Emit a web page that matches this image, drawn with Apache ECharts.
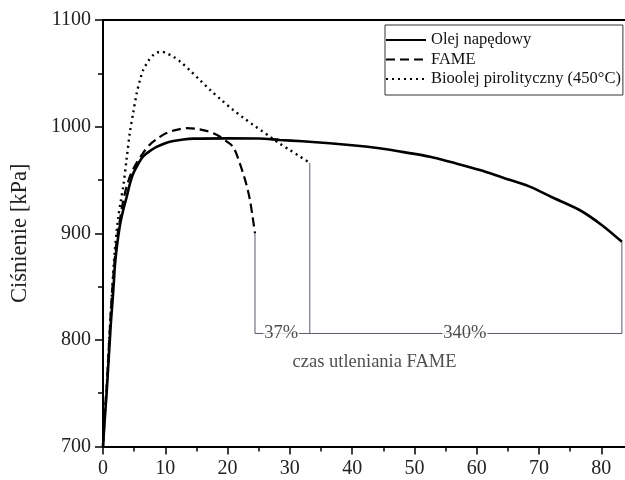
<!DOCTYPE html>
<html>
<head>
<meta charset="utf-8">
<script src="https://cdn.jsdelivr.net/npm/echarts@6/dist/echarts.min.js"></script>
<style>
  html, body { margin: 0; padding: 0; background: #fff; }
  #main { width: 625px; height: 480px; }
</style>
</head>
<body>
<div id="main"></div>
<script>
// czas [min] / ciśnienie [kPa]
var dieselX = [0, 0.3, 0.6, 0.85, 1.1, 1.3, 1.54, 1.75, 1.9, 2.1, 2.4, 2.8, 3.3, 3.8, 4.3, 4.85, 5.6, 6.45, 7.5, 8.6, 10, 11.3, 12.9, 14.5, 20, 25, 28.4, 32, 36.4, 40, 44.4, 48, 52.5, 56, 60.5, 64, 68.5, 72, 76.5, 80, 83.3];
var dieselY = [700, 727, 752, 776, 800, 819, 837, 855, 869, 881, 895, 910, 923, 934, 946, 956, 964.5, 972, 977, 981, 984.5, 986.5, 988, 988.7, 989, 988.8, 987.5, 986.3, 984.4, 982.5, 979.7, 976.3, 971.8, 966.5, 959.3, 952.5, 943.7, 934, 921.8, 908, 892];

var fameX = [0, 0.3, 0.6, 1.0, 1.4, 1.8, 2.2, 2.7, 3.2, 3.8, 4.5, 5.4, 6.4, 7.5, 8.8, 10.2, 11.8, 13.4, 15, 16.6, 17.8, 18.8, 19.9, 20.9, 21.7, 22.5, 23.1, 23.6, 24.0, 24.4];
var fameY = [700, 732, 756, 800, 840, 870, 893, 912, 929, 944, 956, 966, 975, 983, 989, 994, 997, 998.5, 998, 996, 993.5, 990.5, 986, 981, 970, 956, 944, 931, 916, 900];

var bioX = [0, 0.3, 0.6, 1.0, 1.5, 1.9, 2.45, 2.85, 3.25, 3.8, 4.3, 4.85, 5.4, 5.9, 6.45, 7.2, 8.05, 8.7, 9.4, 10.3, 11.3, 12.6, 13.9, 15.5, 17.2, 19, 20.9, 22.5, 24.1, 25.5, 26.8, 28.4, 30, 31.6, 33.2];
var bioY = [700, 732, 756, 800, 850, 884, 915, 930, 944, 970, 994, 1013, 1031, 1043, 1053, 1061, 1067, 1069.5, 1070.3, 1068.5, 1065.6, 1060, 1053, 1044, 1034.4, 1025, 1015.6, 1008.5, 1001.6, 996, 990.6, 984, 978, 972, 966];

var seriesNames = ['Olej napędowy', 'FAME', 'Bioolej pirolityczny (450°C)'];

var xMajorTicks = [0, 10, 20, 30, 40, 50, 60, 70, 80];
var xMinorTicks = [5, 15, 25, 35, 45, 55, 65, 75];

// bracket under the curve ends and its notes
var bracketLevel = 806;
var noteText = ['37%', '340%', 'czas utleniania FAME'];
var noteX = [28.6, 58.1, 43.6];
var noteY = [806, 806, 778.7];

function zip(xs, ys) {
  return xs.map(function (x, i) { return [x, ys[i]]; });
}

var fameEnd = [fameX[fameX.length - 1], fameY[fameY.length - 1]];
var bioEnd = [bioX[bioX.length - 1], bioY[bioY.length - 1]];
var dieselEnd = [dieselX[dieselX.length - 1], dieselY[dieselY.length - 1]];

var font = 'Liberation Serif';
var chart = echarts.init(document.getElementById('main'), null, { renderer: 'canvas' });

var bracketStyle = { color: '#5b5b6b', width: 1 };
var tickStyle = { color: '#000', width: 1.5 };
var plain = function (v) { return String(v); };

var option = {
  animation: false,
  textStyle: { fontFamily: font },
  grid: { left: 103, top: 20, right: 0, bottom: 33.5 },
  legend: {
    data: seriesNames,
    orient: 'vertical',
    left: 385,
    top: 25,
    padding: [6, 2, 7, 0],
    itemWidth: 40,
    itemHeight: 14,
    itemGap: 1.5,
    borderColor: '#333',
    borderWidth: 1,
    itemStyle: { color: 'rgba(0,0,0,0)', borderWidth: 0, opacity: 0 },
    textStyle: { fontFamily: font, fontSize: 16.5, color: '#111', lineHeight: 18 }
  },
  xAxis: [{
    type: 'value',
    min: 0,
    max: 83.8,
    splitLine: { show: false },
    axisLine: { lineStyle: { color: '#000', width: 2 } },
    axisTick: { inside: false, length: 8, lineStyle: tickStyle, customValues: xMajorTicks },
    axisLabel: { fontFamily: font, fontSize: 20, color: '#222', margin: 12, formatter: plain, customValues: xMajorTicks }
  }, {
    type: 'value',
    position: 'bottom',
    min: 0,
    max: 83.8,
    splitLine: { show: false },
    axisLine: { show: false },
    axisTick: { inside: false, length: 5, lineStyle: tickStyle, customValues: xMinorTicks },
    axisLabel: { show: false }
  }, {
    type: 'value',
    position: 'top',
    min: 0,
    max: 83.8,
    splitLine: { show: false },
    axisLine: { show: true, lineStyle: { color: '#000', width: 2 } },
    axisTick: { show: false },
    axisLabel: { show: false }
  }],
  yAxis: {
    type: 'value',
    min: 700,
    max: 1100,
    interval: 100,
    name: 'Ciśnienie [kPa]',
    nameLocation: 'middle',
    nameGap: 71,
    nameTextStyle: { fontFamily: font, fontSize: 22.5, color: '#222' },
    splitLine: { show: false },
    axisLine: { show: true, lineStyle: { color: '#000', width: 2 } },
    axisTick: { show: true, inside: false, length: 8, lineStyle: tickStyle },
    minorTick: { show: true, splitNumber: 2, length: 5, lineStyle: tickStyle },
    axisLabel: { fontFamily: font, fontSize: 20, color: '#222', margin: 12, formatter: plain }
  },
  series: [
    {
      name: seriesNames[0],
      type: 'line',
      data: zip(dieselX, dieselY),
      symbol: 'circle',
      showSymbol: false,
      smooth: 0.3,
      lineStyle: { color: '#000', width: 2.6, type: 'solid' },
      itemStyle: { color: '#000' },
      z: 5
    },
    {
      name: seriesNames[1],
      type: 'line',
      data: zip(fameX, fameY),
      symbol: 'circle',
      showSymbol: false,
      smooth: 0.3,
      lineStyle: { color: '#000', width: 2.2, type: [9, 5] },
      itemStyle: { color: '#000' },
      z: 4
    },
    {
      name: seriesNames[2],
      type: 'line',
      data: zip(bioX, bioY),
      symbol: 'circle',
      showSymbol: false,
      smooth: 0.3,
      lineStyle: { color: '#000', width: 2.4, type: [2, 4] },
      itemStyle: { color: '#000' },
      z: 4
    },
    {
      type: 'line',
      data: [fameEnd, [fameEnd[0], bracketLevel], [dieselEnd[0], bracketLevel], dieselEnd],
      symbol: 'none',
      silent: true,
      lineStyle: bracketStyle,
      z: 2
    },
    {
      type: 'line',
      data: [[bioEnd[0], bracketLevel], bioEnd],
      symbol: 'none',
      silent: true,
      lineStyle: bracketStyle,
      z: 2
    },
    {
      type: 'scatter',
      symbolSize: 0,
      silent: true,
      data: noteText.map(function (t, i) { return { value: [noteX[i], noteY[i]], name: t }; }),
      label: {
        show: true,
        position: 'inside',
        formatter: function (p) { return p.name; },
        fontFamily: font,
        fontSize: 18.5,
        color: '#222',
        backgroundColor: '#fff',
        padding: [0, 1]
      },
      z: 6
    }
  ]
};

chart.setOption(option);
</script>
</body>
</html>
